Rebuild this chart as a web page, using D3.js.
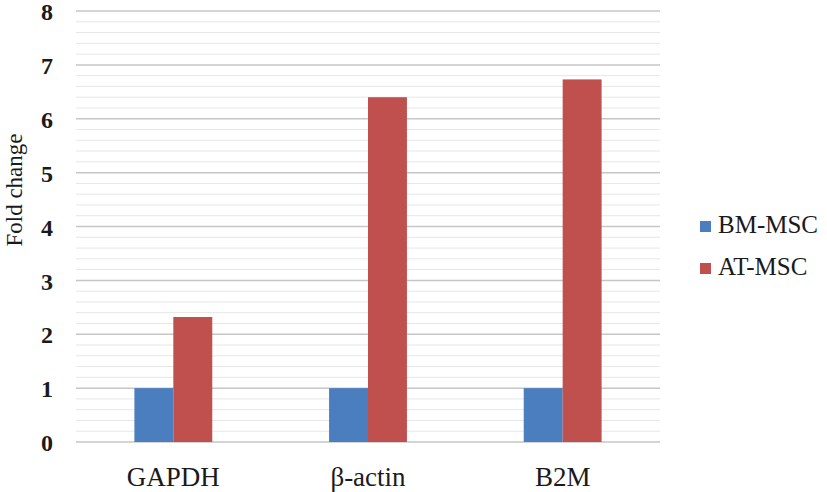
<!DOCTYPE html>
<html>
<head>
<meta charset="utf-8">
<script src="https://cdn.jsdelivr.net/npm/d3@7"></script>
<style>
  body { margin: 0; background: #fff; }
  text { font-family: "Liberation Serif", "Times New Roman", serif; fill: #1a1a1a; }
</style>
</head>
<body>
<svg id="chart" width="827" height="492"></svg>
<script>
// data
const categories = ['GAPDH', 'β-actin', 'B2M'];
const seriesNames = ['BM-MSC', 'AT-MSC'];
const bmMsc = [1, 1, 1];
const atMsc = [2.32, 6.40, 6.73];
const yTicks = [0, 1, 2, 3, 4, 5, 6, 7, 8];

const colors = { 'BM-MSC': '#4a7ebf', 'AT-MSC': '#c0504d' };

const svg = d3.select('#chart');

const plotLeft = 76, plotRight = 660, plotTop = 11, plotBottom = 442;

const x0 = d3.scaleBand()
    .domain(categories)
    .range([plotLeft, plotRight])
    .padding(0);

const x1 = d3.scaleBand()
    .domain(seriesNames)
    .range([x0.bandwidth() * 0.3, x0.bandwidth() * 0.7]);

const y = d3.scaleLinear()
    .domain([0, 8])
    .range([plotBottom, plotTop]);

// minor gridlines (every 0.2)
const minor = d3.range(0, 8.001, 0.2).filter(v => Math.abs(v - Math.round(v)) > 0.01);
svg.append('g')
    .selectAll('line')
    .data(minor)
    .enter()
    .append('line')
    .attr('x1', plotLeft).attr('x2', plotRight)
    .attr('y1', d => y(d)).attr('y2', d => y(d))
    .attr('stroke', '#e6e6e6')
    .attr('stroke-width', 1);

// major gridlines
svg.append('g')
    .selectAll('line')
    .data(yTicks)
    .enter()
    .append('line')
    .attr('x1', plotLeft).attr('x2', plotRight)
    .attr('y1', d => y(d)).attr('y2', d => y(d))
    .attr('stroke', '#c6c6c6')
    .attr('stroke-width', 1.5);

// y axis labels
const yAxis = svg.append('g')
    .attr('transform', `translate(${plotLeft - 23},1)`)
    .call(d3.axisLeft(y).tickValues(yTicks).tickSize(0).tickPadding(0).tickFormat(d3.format('d')));
yAxis.select('.domain').remove();
yAxis.selectAll('text')
    .style('font-family', '"Liberation Serif", serif')
    .style('font-size', '24px')
    .style('font-weight', 'bold')
    .attr('fill', '#1a1a1a');

// bars
const rows = categories.map((c, i) => ({ cat: c, vals: [
    { name: 'BM-MSC', value: bmMsc[i] },
    { name: 'AT-MSC', value: atMsc[i] }
]}));

svg.append('g')
    .selectAll('g')
    .data(rows)
    .enter()
    .append('g')
    .attr('transform', d => `translate(${x0(d.cat)},0)`)
    .selectAll('rect')
    .data(d => d.vals)
    .enter()
    .append('rect')
    .attr('x', d => x1(d.name))
    .attr('width', x1.bandwidth())
    .attr('y', d => y(d.value))
    .attr('height', d => y(0) - y(d.value))
    .attr('fill', d => colors[d.name]);

// category labels
svg.append('g')
    .selectAll('text')
    .data(categories)
    .enter()
    .append('text')
    .attr('x', d => x0(d) + x0.bandwidth() / 2)
    .attr('y', 486)
    .attr('text-anchor', 'middle')
    .style('font-size', '27px')
    .text(d => d);

// y title
svg.append('text')
    .attr('transform', 'translate(22,190) rotate(-90)')
    .attr('text-anchor', 'middle')
    .style('font-size', '23px')
    .text('Fold change');

// legend
const legend = svg.append('g')
    .selectAll('g')
    .data(seriesNames)
    .enter()
    .append('g')
    .attr('transform', (d, i) => `translate(700,${221 + i * 42})`);

legend.append('rect')
    .attr('width', 11).attr('height', 11)
    .attr('fill', d => colors[d]);

legend.append('text')
    .attr('x', 18)
    .attr('y', 12)
    .style('font-size', '25px')
    .text(d => d);
</script>
</body>
</html>
